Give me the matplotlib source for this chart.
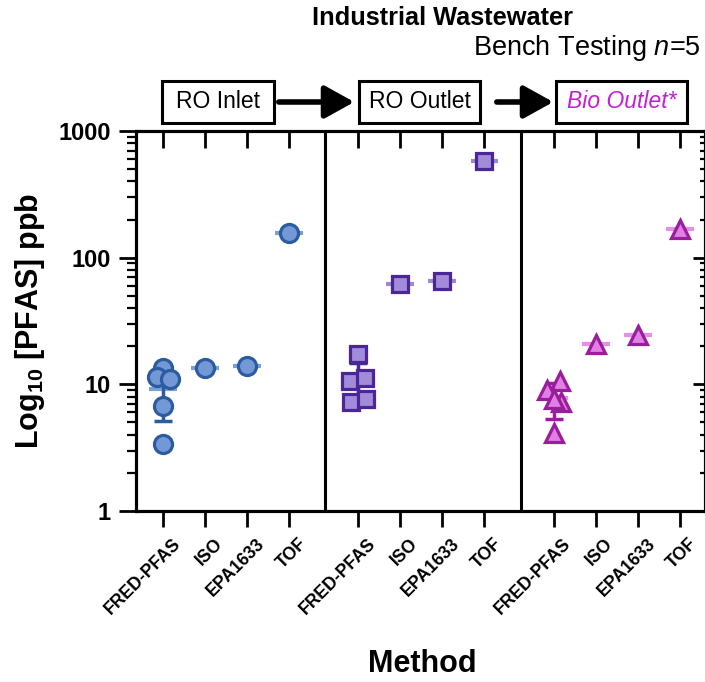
import numpy as np
import matplotlib
matplotlib.use("Agg")
import matplotlib.pyplot as plt
from matplotlib.patches import Rectangle, FancyArrowPatch
from matplotlib.transforms import ScaledTranslation

plt.rcParams['font.family'] = ['Liberation Sans', 'DejaVu Sans']
plt.rcParams['mathtext.fontset'] = 'custom'
plt.rcParams['mathtext.rm'] = 'Liberation Sans'
plt.rcParams['mathtext.bf'] = 'Liberation Sans:bold'
plt.rcParams['mathtext.it'] = 'Liberation Sans:italic'

# data (ppb)
methods = ['FRED-PFAS', 'ISO', 'EPA1633', 'TOF']
stages = ['RO Inlet', 'RO Outlet', 'Bio Outlet*']
fred_ro_inlet = [13.4, 11.4, 11.0, 6.7, 3.4]
fred_ro_outlet = [17.3, 10.6, 11.2, 7.2, 7.6]
fred_bio_outlet = [10.7, 9.0, 7.2, 7.7, 4.1]
iso = [13.4, 62, 21]
epa1633 = [13.9, 66, 24.5]
tof = [158, 578, 167]

# styling per stage
markers = ['o', 's', '^']
msizes = [13, 11.5, 12.5]
faces = ['#7398d6', '#a28bd9', '#e07fe4']
edges = ['#2c5c9f', '#4b2697', '#9a1e9c']
lights = ['#7aa0da', '#9c88d6', '#e98ded']
jitter = [[0, -0.15, 0.17, 0, 0],
          [0, -0.19, 0.17, -0.17, 0.19],
          [0.15, -0.17, 0.17, 0, 0]]
group_step = 4.65

fig = plt.figure(figsize=(7.05, 6.82), dpi=100)
ax = fig.add_axes([136/705, 1 - 511/682, 569/705, 380/682])

fred = [fred_ro_inlet, fred_ro_outlet, fred_bio_outlet]
xticks = []
for g in range(3):
    x0 = g * group_step
    xticks += [x0 + i for i in range(4)]
    vals = np.array(fred[g])
    m, sd = vals.mean(), vals.std(ddof=1)
    # mean line + SD error bar
    ax.hlines(m, x0 - 0.33, x0 + 0.33, color=lights[g], lw=3, zorder=2)
    ax.errorbar(x0, m, yerr=sd, fmt='none', ecolor=edges[g], elinewidth=2.5,
                capsize=6.5, capthick=2.5, zorder=2)
    ax.plot(x0 + np.array(jitter[g]), vals, ls='none', marker=markers[g],
            ms=msizes[g], mfc=faces[g], mec=edges[g], mew=2.3, zorder=3)
    for i, v in enumerate([iso[g], epa1633[g], tof[g]], start=1):
        ax.hlines(v, x0 + i - 0.33, x0 + i + 0.33, color=lights[g], lw=3, zorder=2)
        ax.plot(x0 + i, v, ls='none', marker=markers[g], ms=msizes[g],
                mfc=faces[g], mec=edges[g], mew=2.3, zorder=3)

for xs in [3.86, 3.86 + group_step]:
    ax.axvline(xs, color='black', lw=2.2, zorder=1)

ax.set_yscale('log')
ax.set_ylim(1, 1000)
ax.set_xlim(-0.64, 12.9)
ax.set_yticks([1, 10, 100, 1000])
ax.set_yticklabels(['1', '10', '100', '1000'], fontsize=17, fontweight='bold')
ax.set_xticks(xticks)
ax.set_xticklabels(methods * 3, rotation=45, ha='right', va='top',
                   rotation_mode='anchor', fontsize=12.7, fontweight='bold')
ax.tick_params(axis='y', which='major', direction='out', length=12, width=2, pad=6)
ax.tick_params(axis='y', which='minor', direction='out', length=6.5, width=1.6)
ax.tick_params(axis='x', which='major', direction='out', length=11.5, width=2, pad=4)
for s in ax.spines.values():
    s.set_linewidth(2.2)
# nudge rotated labels so their ends sit just right of the ticks
for lbl in ax.get_xticklabels():
    lbl.set_transform(lbl.get_transform() + ScaledTranslation(9/100, -3/100, fig.dpi_scale_trans))

# mirrored ticks on top and right
axr = ax.twinx()
axr.set_yscale('log')
axr.set_ylim(1, 1000)
axr.tick_params(axis='y', which='major', direction='in', length=9, width=2, labelright=False)
axr.tick_params(axis='y', which='minor', direction='in', length=3.5, width=1.6)
axt = ax.twiny()
axt.set_xlim(ax.get_xlim())
axt.set_xticks(xticks)
axt.tick_params(axis='x', direction='in', length=12, width=2, labeltop=False)
for a in (axr, axt):
    for s in a.spines.values():
        s.set_linewidth(2.2)

fig.text(30/705, 1 - 321/682, r'Log$_{\mathbf{10}}$ [PFAS] ppb', fontsize=22,
         fontweight='bold', rotation=90, ha='center', va='center')
fig.text(422/705, 1 - 664/682, 'Method', fontsize=22, fontweight='bold',
         ha='center', va='center')
fig.text(443/705, 1 - 18/682, 'Industrial Wastewater', fontsize=18.3,
         fontweight='bold', ha='center', va='center')
fig.text(701/705, 1 - 48/682, r'Bench Testing $\mathit{n}$=5', fontsize=19.5,
         ha='right', va='center')

# process flow boxes above the plot
boxes = [(162, 274), (359, 480), (556, 687)]
box_colors = ['black', 'black', '#c31fd4']
for (xa, xb), label, c in zip(boxes, stages, box_colors):
    fig.patches.append(Rectangle((xa/705, 1 - 123/682), (xb - xa)/705, 42/682,
                                 transform=fig.transFigure, fill=False,
                                 ec='black', lw=2.2))
    fig.text((xa + xb)/2/705, 1 - 102/682, label, fontsize=16.5, ha='center',
             va='center', color=c, style='italic' if c != 'black' else 'normal')
for xa, xb in [(276, 357), (494, 556)]:
    fig.patches.append(FancyArrowPatch((xa/705, 1 - 102/682), (xb/705, 1 - 102/682),
                                       transform=fig.transFigure,
                                       arrowstyle='-|>,head_length=0.9,head_width=0.5',
                                       mutation_scale=20, lw=4, color='black'))

fig.savefig('out.png', dpi=100)
